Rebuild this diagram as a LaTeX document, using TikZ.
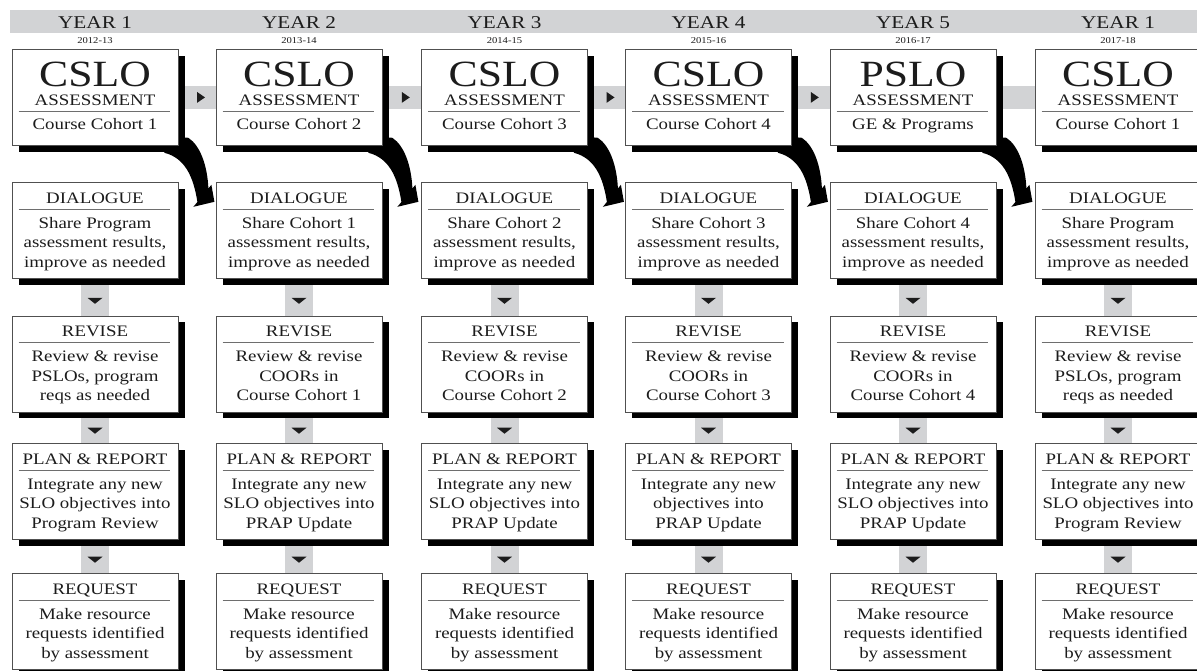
\documentclass[tikz,border=0pt]{standalone}
\usepackage{fontspec}
\setmainfont{Liberation Serif}[FakeStretch=1.18]
\usetikzlibrary{calc,shadows}
\pgfdeclarelayer{bg}
\pgfsetlayers{bg,main}
\definecolor{bandgray}{RGB}{210,211,213}
\definecolor{inkc}{RGB}{28,28,28}
\definecolor{edgec}{RGB}{80,80,80}
\definecolor{rulec}{RGB}{110,110,110}
\tikzset{
  boxst/.style={draw=edgec, line width=0.8pt, fill=white, minimum width=166pt,
    minimum height=96pt, inner sep=0pt, anchor=north,
    drop shadow={shadow xshift=6.5pt, shadow yshift=-6.5pt, fill=black, opacity=1}},
  txt/.style={anchor=base, inner sep=0pt, text=inkc, font=\fontsize{16}{19}\selectfont},
  bigst/.style={anchor=base, inner sep=0pt, text=inkc, font=\fontsize{37}{37}\selectfont},
  yearst/.style={anchor=base, inner sep=0pt, text=inkc, font=\fontsize{18}{18}\selectfont},
  datest/.style={anchor=base, inner sep=0pt, text=inkc, font=\fontsize{9}{9}\selectfont},
  rulest/.style={draw=rulec, line width=0.7pt},
  vband/.style={draw=bandgray, line width=28pt},
  hband/.style={draw=bandgray, line width=23pt},
  tri/.style={fill=inkc},
  swoosh/.style={fill=black}
}
\newcommand{\mkstep}[7]{%
  \node[boxst] (#1) at (#2,#3) {};
  \draw[rulest] ($(#1.north west)+(7,27)$) -- ($(#1.north east)+(-8,27)$);
  \node[txt] (#1-h) at ($(#1.north)+(0,21.3)$) {#4};
  \node[txt] (#1-a) at ($(#1.north)+(0,46)$) {#5};
  \node[txt] (#1-b) at ($(#1.north)+(0,65.5)$) {#6};
  \node[txt] (#1-c) at ($(#1.north)+(0,85)$) {#7};
}
\newcommand{\mkassess}[6]{%
  \node[boxst] (#1) at (#2,49) {};
  \node[yearst] (#1-y) at (#2,28) {#3};
  \node[datest] (#1-d) at (#2,43.5) {#4};
  \node[bigst] (#1-t) at ($(#1.north)+(0,37)$) {#5};
  \node[txt] (#1-s) at ($(#1.north)+(0,56)$) {ASSESSMENT};
  \draw[rulest] ($(#1.north west)+(7,62)$) -- ($(#1.north east)+(-8,62)$);
  \node[txt] (#1-c) at ($(#1.north)+(0,80)$) {#6};
}
\begin{document}
\begin{tikzpicture}[x=1pt,y=-1pt]
\useasboundingbox (0,0) rectangle (1197,670);
\clip (0,0) rectangle (1197,670);

% assessment row
\mkassess{c1}{95}{YEAR 1}{2012-13}{CSLO}{Course Cohort 1}
\mkassess{c2}{299}{YEAR 2}{2013-14}{CSLO}{Course Cohort 2}
\mkassess{c3}{504.5}{YEAR 3}{2014-15}{CSLO}{Course Cohort 3}
\mkassess{c4}{708.5}{YEAR 4}{2015-16}{CSLO}{Course Cohort 4}
\mkassess{c5}{913}{YEAR 5}{2016-17}{PSLO}{GE \& Programs}
\mkassess{c6}{1118}{YEAR 1}{2017-18}{CSLO}{Course Cohort 1}

% dialogue row
\mkstep{d1}{95}{182}{DIALOGUE}{Share Program}{assessment results,}{improve as needed}
\mkstep{d2}{299}{182}{DIALOGUE}{Share Cohort 1}{assessment results,}{improve as needed}
\mkstep{d3}{504.5}{182}{DIALOGUE}{Share Cohort 2}{assessment results,}{improve as needed}
\mkstep{d4}{708.5}{182}{DIALOGUE}{Share Cohort 3}{assessment results,}{improve as needed}
\mkstep{d5}{913}{182}{DIALOGUE}{Share Cohort 4}{assessment results,}{improve as needed}
\mkstep{d6}{1118}{182}{DIALOGUE}{Share Program}{assessment results,}{improve as needed}

% revise row
\mkstep{r1}{95}{315.5}{REVISE}{Review \& revise}{PSLOs, program}{reqs as needed}
\mkstep{r2}{299}{315.5}{REVISE}{Review \& revise}{COORs in}{Course Cohort 1}
\mkstep{r3}{504.5}{315.5}{REVISE}{Review \& revise}{COORs in}{Course Cohort 2}
\mkstep{r4}{708.5}{315.5}{REVISE}{Review \& revise}{COORs in}{Course Cohort 3}
\mkstep{r5}{913}{315.5}{REVISE}{Review \& revise}{COORs in}{Course Cohort 4}
\mkstep{r6}{1118}{315.5}{REVISE}{Review \& revise}{PSLOs, program}{reqs as needed}

% plan row
\mkstep{p1}{95}{443}{PLAN \& REPORT}{Integrate any new}{SLO objectives into}{Program Review}
\mkstep{p2}{299}{443}{PLAN \& REPORT}{Integrate any new}{SLO objectives into}{PRAP Update}
\mkstep{p3}{504.5}{443}{PLAN \& REPORT}{Integrate any new}{SLO objectives into}{PRAP Update}
\mkstep{p4}{708.5}{443}{PLAN \& REPORT}{Integrate any new}{objectives into}{PRAP Update}
\mkstep{p5}{913}{443}{PLAN \& REPORT}{Integrate any new}{SLO objectives into}{PRAP Update}
\mkstep{p6}{1118}{443}{PLAN \& REPORT}{Integrate any new}{SLO objectives into}{Program Review}

% request row
\mkstep{q1}{95}{573}{REQUEST}{Make resource}{requests identified}{by assessment}
\mkstep{q2}{299}{573}{REQUEST}{Make resource}{requests identified}{by assessment}
\mkstep{q3}{504.5}{573}{REQUEST}{Make resource}{requests identified}{by assessment}
\mkstep{q4}{708.5}{573}{REQUEST}{Make resource}{requests identified}{by assessment}
\mkstep{q5}{913}{573}{REQUEST}{Make resource}{requests identified}{by assessment}
\mkstep{q6}{1118}{573}{REQUEST}{Make resource}{requests identified}{by assessment}

\begin{pgfonlayer}{bg}
  \fill[white] (0,0) rectangle (1197,670);
  \fill[bandgray] (10,10) rectangle (1197,33);
  \draw[hband] (c1.center) -- (c6.center);
  \foreach \i in {1,...,6}{
    \draw[vband] (d\i.south) -- (r\i.north);
    \draw[vband] (r\i.south) -- (p\i.north);
    \draw[vband] (p\i.south) -- (q\i.north);
  }
  \foreach \i [evaluate=\i as \j using int(\i+1)] in {1,...,5}{
    \fill[swoosh, shift={(c\i.south east)}]
      (-14,-10) -- (10,-8) .. controls (22,0) and (29,20) .. (30,42.7)
      -- (33,39) -- (36,56) -- (15,61) -- (19,56.2)
      .. controls (15,30) and (6,12) .. (-14,7) -- cycle;
  }
\end{pgfonlayer}

% down triangles
\foreach \i in {1,...,6}{
  \foreach \a/\b in {d/r,r/p,p/q}{
    \fill[tri] ($(\a\i.south)!0.6!(\b\i.north)$) +(-7.5,-3) -- +(7.5,-3) -- +(0,3) -- cycle;
  }
}
% right triangles
\foreach \i [evaluate=\i as \j using int(\i+1)] in {1,...,4}{
  \fill[tri] ($(c\i.east)!0.5!(c\j.west)+(4,0)$) +(-4,-5.5) -- +(4,0) -- +(-4,5.5) -- cycle;
}
\end{tikzpicture}
\end{document}
